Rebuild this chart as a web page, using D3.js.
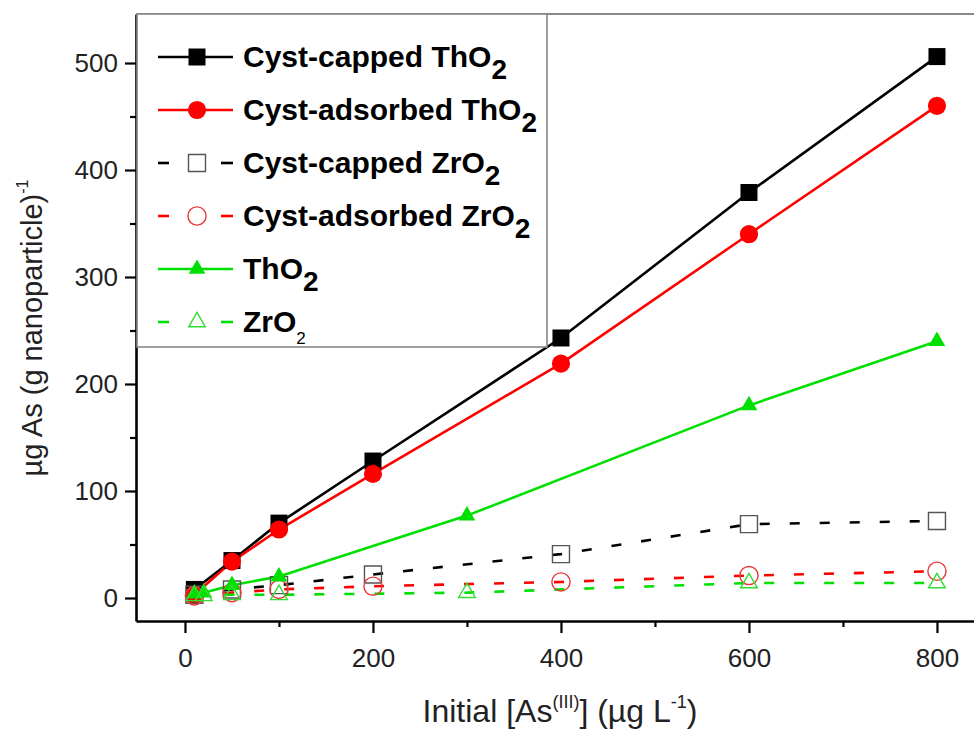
<!DOCTYPE html>
<html>
<head>
<meta charset="utf-8">
<script src="https://cdn.jsdelivr.net/npm/d3@7"></script>
<style>
  body { margin: 0; background: #fff; }
  text { font-family: 'Liberation Sans', Arial, sans-serif; }
</style>
</head>
<body>
<div id="chart-area"></div>
<script>
// data
const xTh = [10, 50, 100, 200, 400, 600, 800];
const xOx = [10, 20, 50, 100, 300, 600, 800];
const cappedThO2 = [8, 35, 70, 128, 243, 379, 506];
const adsorbedThO2 = [3, 34, 64, 116, 219, 340, 460];
const cappedZrO2 = [3, 8, 12, 22, 41, 69, 72];
const adsorbedZrO2 = [2, 5, 8, 11, 15, 21, 25];
const thO2 = [4, 5, 12, 20, 77, 180, 240];
const zrO2 = [2, 2, 3, 3, 5, 14, 14];
const xTicks = [0, 200, 400, 600, 800];
const xMinor = [100, 300, 500, 700];
const yTicks = [0, 100, 200, 300, 400, 500];
const yMinor = [50, 150, 250, 350, 450];

const W = 974, H = 731;
const green = '#00e000';

const series = [
  {label: 'Cyst-capped ThO', xs: xTh, ys: cappedThO2, color: '#000', dash: null, shape: d3.symbolSquare, size: 289, fill: '#000', stroke: 'none'},
  {label: 'Cyst-adsorbed ThO', xs: xTh, ys: adsorbedThO2, color: '#ff0000', dash: null, shape: d3.symbolCircle, size: 260, fill: '#ff0000', stroke: 'none'},
  {label: 'Cyst-capped ZrO', xs: xTh, ys: cappedZrO2, color: '#000', dash: '10,20', shape: d3.symbolSquare, size: 289, fill: 'none', stroke: '#555'},
  {label: 'Cyst-adsorbed ZrO', xs: xTh, ys: adsorbedZrO2, color: '#ff0000', dash: '10,20', shape: d3.symbolCircle, size: 260, fill: 'none', stroke: '#e83a3a'},
  {label: 'ThO', xs: xOx, ys: thO2, color: green, dash: null, shape: d3.symbolTriangle, size: 120, fill: green, stroke: 'none'},
  {label: 'ZrO', xs: xOx, ys: zrO2, color: green, dash: '10,20', shape: d3.symbolTriangle, size: 120, fill: 'none', stroke: '#33dd33', smallSub: true}
];

const svg = d3.select('#chart-area')
  .append('svg')
  .attr('width', W)
  .attr('height', H);

const x = d3.scaleLinear()
  .domain([-52.1, 839.4])
  .range([136, 974]);

const y = d3.scaleLinear()
  .domain([-21.5, 545.8])
  .range([621, 14]);

// top frame line (gray)
svg.append('line')
  .attr('x1', x.range()[0]).attr('x2', x.range()[1])
  .attr('y1', y.range()[1]).attr('y2', y.range()[1])
  .attr('stroke', '#888')
  .attr('stroke-width', 2);

// series lines
const line = d3.line()
  .x(d => x(d[0]))
  .y(d => y(d[1]));

series.forEach(s => {
  const pts = s.xs.map((v, i) => [v, s.ys[i]]);
  svg.append('path')
    .datum(pts)
    .attr('fill', 'none')
    .attr('stroke', s.color)
    .attr('stroke-width', 2.6)
    .attr('stroke-dasharray', s.dash)
    .attr('d', line);
});

// markers
series.forEach(s => {
  const pts = s.xs.map((v, i) => [v, s.ys[i]]);
  svg.append('g')
    .selectAll('path')
    .data(pts)
    .enter()
    .append('path')
    .attr('transform', d => `translate(${x(d[0])}, ${y(d[1])})`)
    .attr('d', d3.symbol().type(s.shape).size(s.size))
    .attr('fill', s.fill)
    .attr('stroke', s.stroke)
    .attr('stroke-width', 1.4);
});

// Add X Axis
svg.append('g')
  .attr('transform', `translate(0, ${y.range()[0]})`)
  .call(d3.axisBottom(x).tickValues(xTicks).tickSize(12).tickSizeOuter(0).tickPadding(16));

svg.append('g')
  .attr('transform', `translate(0, ${y.range()[0]})`)
  .call(d3.axisBottom(x).tickValues(xMinor).tickSize(6).tickFormat('').tickSizeOuter(0))
  .select('.domain').remove();

// Add Y Axis
svg.append('g')
  .attr('transform', `translate(${x.range()[0]}, 0)`)
  .call(d3.axisLeft(y).tickValues(yTicks).tickSize(11).tickSizeOuter(0).tickPadding(7));

svg.append('g')
  .attr('transform', `translate(${x.range()[0]}, 0)`)
  .call(d3.axisLeft(y).tickValues(yMinor).tickSize(6).tickFormat('').tickSizeOuter(0))
  .select('.domain').remove();

svg.selectAll('.domain').attr('stroke', '#000').attr('stroke-width', 2.6);
svg.selectAll('.tick line').attr('stroke', '#000').attr('stroke-width', 2.2);
svg.selectAll('.tick text')
  .attr('font-size', '26px')
  .attr('fill', '#222')
  .attr('font-family', "'Liberation Sans', Arial, sans-serif");

// X Label
const xLabel = svg.append('text')
  .attr('x', 560)
  .attr('y', 722)
  .attr('font-size', '32px')
  .attr('fill', '#222')
  .attr('text-anchor', 'middle');
xLabel.append('tspan').text('Initial [As');
xLabel.append('tspan').attr('font-size', '18px').attr('dy', -14).text('(III)');
xLabel.append('tspan').attr('dy', 14).text('] (\u00b5g L');
xLabel.append('tspan').attr('font-size', '18px').attr('dy', -14).text('-1');
xLabel.append('tspan').attr('dy', 14).text(')');

// Y Label
const yLabel = svg.append('text')
  .attr('transform', 'translate(42, 328) rotate(-90)')
  .attr('font-size', '29px')
  .attr('fill', '#222')
  .attr('text-anchor', 'middle');
yLabel.append('tspan').text('\u00b5g As (g nanoparticle)');
yLabel.append('tspan').attr('font-size', '16px').attr('dy', -14).text('-1');

// Legend
const legend = svg.append('g');
legend.append('rect')
  .attr('x', 137).attr('y', 14)
  .attr('width', 410).attr('height', 333)
  .attr('fill', '#fff')
  .attr('stroke', '#888')
  .attr('stroke-width', 1.6);

series.forEach((s, i) => {
  const cy = 57 + i * 53;
  const row = legend.append('g').attr('transform', `translate(0, ${cy})`);
  if (s.dash) {
    [[158, 169], [221, 233]].forEach(seg => {
      row.append('line')
        .attr('x1', seg[0]).attr('x2', seg[1])
        .attr('stroke', s.color).attr('stroke-width', 2.6);
    });
  } else {
    row.append('line')
      .attr('x1', 158).attr('x2', 233)
      .attr('stroke', s.color).attr('stroke-width', 2.6);
  }
  row.append('path')
    .attr('transform', 'translate(197, 0)')
    .attr('d', d3.symbol().type(s.shape).size(s.size))
    .attr('fill', s.fill === 'none' ? '#fff' : s.fill)
    .attr('stroke', s.stroke)
    .attr('stroke-width', 1.4);
  const t = row.append('text')
    .attr('x', 243)
    .attr('y', 10)
    .attr('font-size', '30px')
    .attr('font-weight', 'bold')
    .attr('fill', '#000');
  t.append('tspan').text(s.label);
  if (s.smallSub) {
    t.append('tspan').attr('font-size', '17px').attr('font-weight', 'normal').attr('dy', 12).text('2');
  } else {
    t.append('tspan').attr('font-size', '28px').attr('dy', 12).text('2');
  }
});
</script>
</body>
</html>
